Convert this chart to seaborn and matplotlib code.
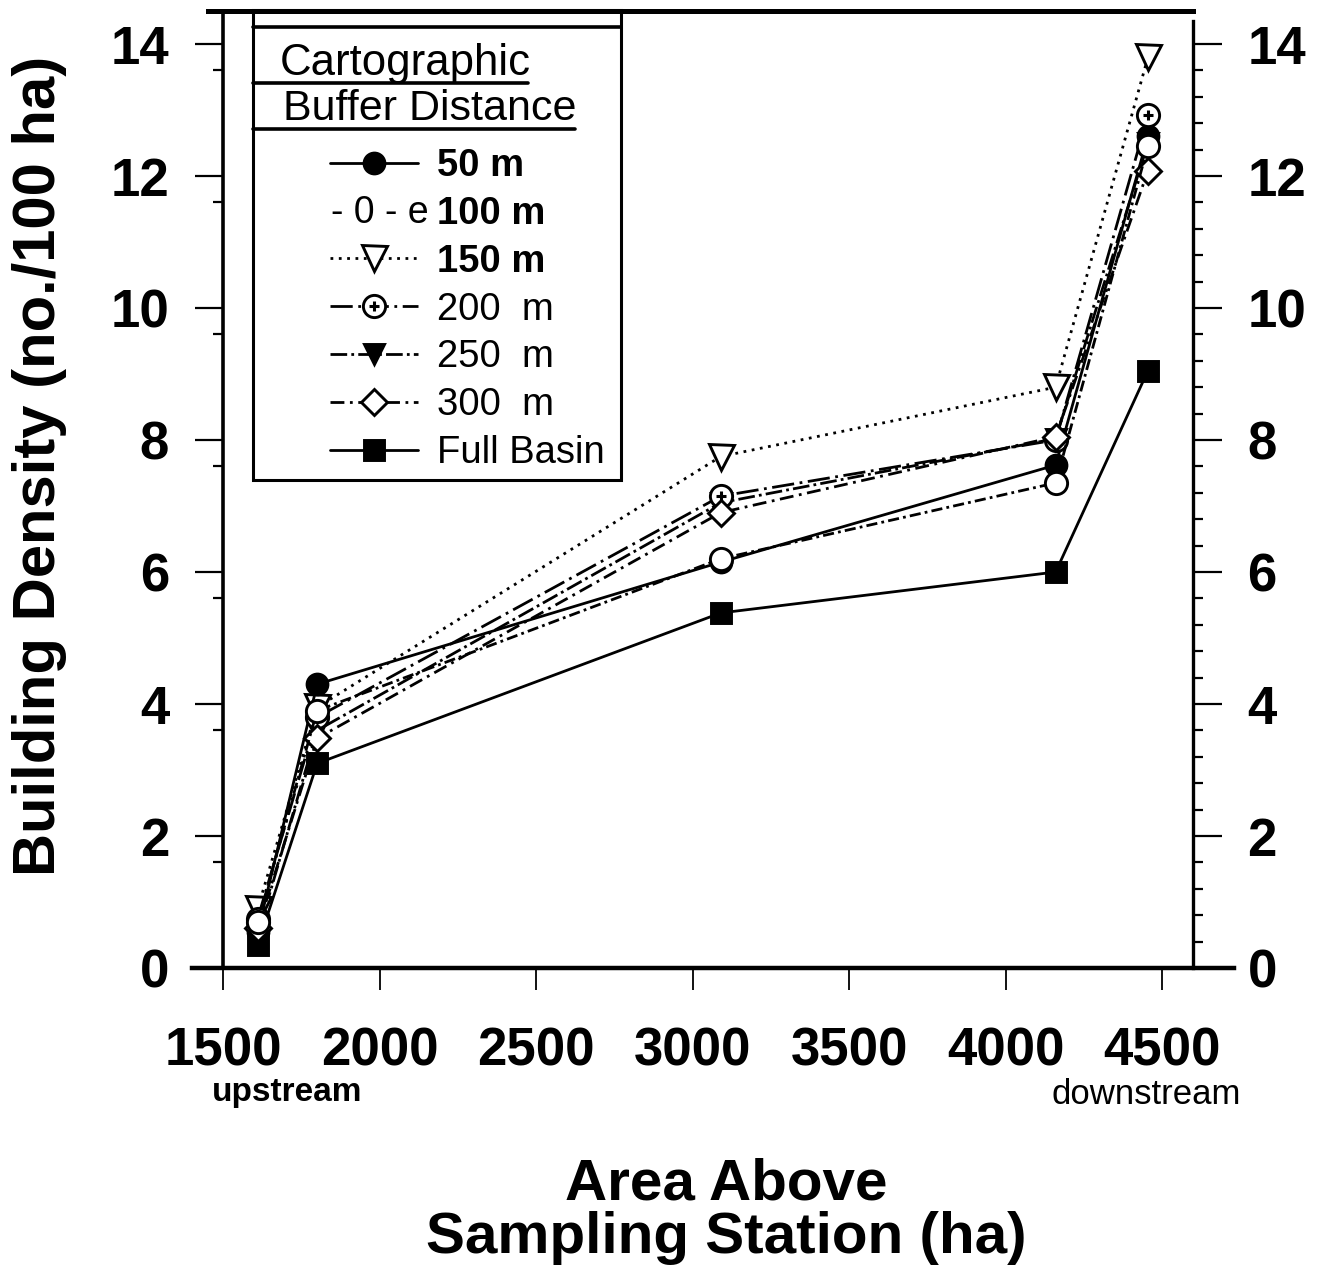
import numpy as np
import matplotlib
matplotlib.use("Agg")
import matplotlib.pyplot as plt
import seaborn as sns
from matplotlib.lines import Line2D
from matplotlib.patches import Rectangle
from matplotlib.legend_handler import HandlerTuple
from matplotlib.ticker import FixedLocator

# data
area = [1610, 1800, 3090, 4160, 4455]
d50 = [0.55, 4.3, 6.15, 7.62, 12.6]
d100 = [0.7, 3.9, 6.2, 7.35, 12.45]
d150 = [0.9, 3.95, 7.75, 8.8, 13.8]
d200 = [0.75, 3.8, 7.15, 8.0, 12.92]
d250 = [0.5, 3.6, 7.05, 8.02, 12.5]
d300 = [0.6, 3.48, 6.9, 8.05, 12.08]
full_basin = [0.35, 3.1, 5.38, 6.0, 9.05]
labels = ["50 m", "100 m", "150 m", "200  m", "250  m", "300  m", "Full Basin"]
x_ticks = [1500, 2000, 2500, 3000, 3500, 4000, 4500]
y_ticks = [0, 2, 4, 6, 8, 10, 12, 14]

W, H = 1321, 1279
sns.set_style("white")
plt.rcParams["font.family"] = ["Liberation Sans", "DejaVu Sans"]
for key in ["text.color", "axes.labelcolor", "xtick.color", "ytick.color", "axes.edgecolor"]:
    plt.rcParams[key] = "black"


def fx(px):
    return px / W


def fy(py):
    return 1 - py / H


fig = plt.figure(figsize=(W / 100, H / 100), dpi=100)
ax = fig.add_axes([fx(192), fy(968), (1234 - 192) / W, (968 - 11) / H])

styles = [
    dict(linestyle="-", marker="o", markersize=15, markerfacecolor="black", zorder=5),
    dict(linestyle=(0, (4, 1.5, 1, 1.5)), marker="o", markersize=16,
         markerfacecolor="white", zorder=8),
    dict(linestyle=(0, (1, 2)), marker="v", markersize=18, markerfacecolor="white", zorder=4),
    dict(linestyle=(0, (8, 2, 1, 2)), marker="o", markersize=16,
         markerfacecolor="white", zorder=6),
    dict(linestyle=(0, (6, 1.5, 1, 1.5)), marker="v", markersize=15,
         markerfacecolor="black", zorder=3),
    dict(linestyle=(0, (5, 2, 1, 2)), marker="D", markersize=13,
         markerfacecolor="white", zorder=7),
    dict(linestyle="-", marker="s", markersize=15, markerfacecolor="black", zorder=2),
]
series = [d50, d100, d150, d200, d250, d300, full_basin]

handles = []
for i, vals in enumerate(series):
    sns.lineplot(x=area, y=vals, ax=ax, color="black", linewidth=2, legend=False,
                 markeredgecolor="black", markeredgewidth=2.1, **styles[i])
    h = ax.lines[-1]
    if i == 3:
        # 200 m marker has a small cross in its centre
        sns.lineplot(x=area, y=vals, ax=ax, color="black", linestyle="none", legend=False,
                     marker="+", markersize=7, markeredgecolor="black", markeredgewidth=2.2,
                     zorder=6.5)
        h = (h, ax.lines[-1])
    handles.append(h)

ax.set_xlim(1400, 4730)
ax.set_ylim(0, 14.5)
ax.set_xlabel("")
ax.set_ylabel("")

# spines
ax.spines["right"].set_visible(False)
ax.spines["left"].set_position(("data", 1500))
ax.spines["left"].set_linewidth(2.6)
ax.spines["bottom"].set_linewidth(3.2)
ax.spines["top"].set_linewidth(3.6)
ax.spines["top"].set_bounds(1452, 4600)

ax.xaxis.set_major_locator(FixedLocator(x_ticks))
ax.yaxis.set_major_locator(FixedLocator(y_ticks))
ax.yaxis.set_minor_locator(FixedLocator(np.arange(1.6, 14, 2)))
ax.tick_params(axis="x", which="major", direction="out", length=16, width=1.3,
               pad=26, labelsize=38, bottom=True, top=False)
ax.tick_params(axis="y", which="major", direction="out", length=20, width=1.6,
               pad=19, labelsize=38, left=True)
ax.tick_params(axis="y", which="minor", direction="out", length=7, width=1.6, left=True)

ax2 = ax.twinx()
ax2.set_ylim(0, 14.5)
for s in ["left", "top", "bottom"]:
    ax2.spines[s].set_visible(False)
ax2.spines["right"].set_position(("data", 4600))
ax2.spines["right"].set_bounds(0, 14.35)
ax2.spines["right"].set_linewidth(2.4)
ax2.yaxis.set_major_locator(FixedLocator(y_ticks))
ax2.yaxis.set_minor_locator(FixedLocator(np.arange(0.4, 14.1, 0.4)))
ax2.tick_params(axis="y", which="major", direction="out", length=21, width=1.6,
                pad=18, labelsize=38, right=True)
ax2.tick_params(axis="y", which="minor", direction="out", length=7, width=1.6, right=True)

for lbl in ax.get_xticklabels() + ax.get_yticklabels() + ax2.get_yticklabels():
    lbl.set_fontweight("bold")

# legend box and header
fig.add_artist(Rectangle((fx(253), fy(480)), (621 - 253) / W, (480 - 10) / H,
                         transform=fig.transFigure, fill=False, lw=2.2, ec="black"))
for y0, x1 in [(27, 621), (83, 528), (129, 575)]:
    fig.add_artist(Line2D([fx(253), fx(x1)], [fy(y0), fy(y0)], transform=fig.transFigure,
                          color="black", lw=2.6))
fig.text(fx(405), fy(63), "Cartographic", ha="center", va="center", fontsize=31.5)
fig.text(fx(430), fy(109), "Buffer Distance", ha="center", va="center", fontsize=31)

# the 100 m key is printed as characters in the original
leg_handles = list(handles)
leg_handles[1] = Line2D([], [], linestyle="none")
leg = fig.legend(leg_handles, labels, loc="upper left",
                 bbox_to_anchor=(fx(330), fy(148)), frameon=False,
                 handlelength=2.3, handletextpad=0.5, labelspacing=0.31,
                 borderpad=0, borderaxespad=0, prop={"size": 27.5},
                 handler_map={tuple: HandlerTuple(ndivide=1, pad=0)})
for t in leg.get_texts()[:3]:
    t.set_fontweight("bold")
fig.text(fx(331), fy(213), "- 0 - e", ha="left", va="center", fontsize=27)

# axis titles and annotations
fig.text(fx(40), fy(466), "Building Density (no./100 ha)", rotation=90,
         ha="center", va="center", fontsize=43, fontweight="bold")
fig.text(fx(726), fy(1211), "Area Above\nSampling Station (ha)", ha="center", va="center",
         fontsize=42, fontweight="bold", linespacing=1.0, multialignment="center")
fig.text(fx(287), fy(1093), "upstream", ha="center", va="center", fontsize=24,
         fontweight="bold")
fig.text(fx(1146), fy(1095), "downstream", ha="center", va="center", fontsize=25)

fig.savefig("out.png", dpi=100, facecolor="white")
